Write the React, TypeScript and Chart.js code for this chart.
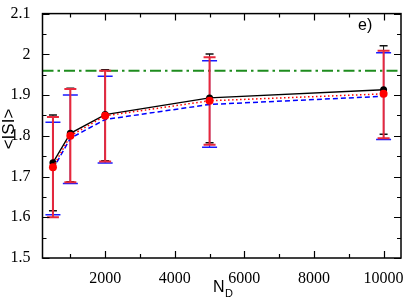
import React, { useEffect, useRef } from "react";
import { Chart, registerables } from "chart.js";

Chart.register(...registerables);

// ---- data ----
const nValues = [500, 1000, 2000, 5000, 10000];

const blackMean = [1.734, 1.806, 1.852, 1.893, 1.913];
const blackUpper = [1.851, 1.917, 1.962, 2.001, 2.021];
const blackLower = [1.616, 1.687, 1.739, 1.783, 1.804];

const redMean = [1.723, 1.8, 1.849, 1.886, 1.903];
const redUpper = [1.846, 1.915, 1.96, 1.993, 2.009];
const redLower = [1.6, 1.686, 1.737, 1.778, 1.794];

const blueMean = [1.718, 1.794, 1.84, 1.877, 1.897];
const blueUpper = [1.833, 1.9, 1.946, 1.984, 2.004];
const blueLower = [1.606, 1.683, 1.733, 1.772, 1.791];

const referenceLevel = 1.96;

const xTickValues = [2000, 4000, 6000, 8000, 10000];
const xMinorTicks = [1000, 3000, 5000, 7000, 9000];
const yTickValues = [1.5, 1.6, 1.7, 1.8, 1.9, 2.0, 2.1];
const yTickLabels = ["1.5", "1.6", "1.7", "1.8", "1.9", "2", "2.1"];
const yMinorTicks = [1.55, 1.65, 1.75, 1.85, 1.95, 2.05];

const xTitle = "N";
const xTitleSub = "D";
const yTitle = "<ISI>";
const panelLabel = "e)";

const toPoints = (ys: number[]) => nValues.map((x, i) => ({ x, y: ys[i] }));

function drawErrorBars(
  ctx: CanvasRenderingContext2D,
  chart: any,
  upper: number[],
  lower: number[],
  color: string,
  vWidth: number,
  capHalf: number,
  capWidth: number
) {
  const x = chart.scales.x;
  const y = chart.scales.y;
  ctx.save();
  ctx.strokeStyle = color;
  ctx.setLineDash([]);
  for (let i = 0; i < nValues.length; i++) {
    const px = x.getPixelForValue(nValues[i]);
    const pt = y.getPixelForValue(upper[i]);
    const pb = y.getPixelForValue(lower[i]);
    ctx.lineWidth = vWidth;
    ctx.beginPath();
    ctx.moveTo(px, pt);
    ctx.lineTo(px, pb);
    ctx.stroke();
    ctx.lineWidth = capWidth;
    ctx.beginPath();
    ctx.moveTo(px - capHalf, pt);
    ctx.lineTo(px + capHalf, pt);
    ctx.moveTo(px - capHalf, pb);
    ctx.lineTo(px + capHalf, pb);
    ctx.stroke();
  }
  ctx.restore();
}

const decorPlugin = {
  id: "decor",
  beforeDatasetsDraw(chart: any) {
    const { ctx, chartArea: a } = chart;
    const y = chart.scales.y;
    ctx.save();
    ctx.beginPath();
    ctx.rect(a.left, a.top, a.right - a.left, a.bottom - a.top);
    ctx.clip();
    // reference line
    ctx.strokeStyle = "#1e8c1e";
    ctx.lineWidth = 2;
    ctx.setLineDash([11, 4, 2.5, 4]);
    const gy = y.getPixelForValue(referenceLevel);
    ctx.beginPath();
    ctx.moveTo(a.left, gy);
    ctx.lineTo(a.right, gy);
    ctx.stroke();
    ctx.restore();

    drawErrorBars(ctx, chart, blueUpper, blueLower, "#1a1aff", 1.2, 7.5, 1.5);
    drawErrorBars(ctx, chart, blackUpper, blackLower, "#111111", 1, 4, 1.5);
    drawErrorBars(ctx, chart, redUpper, redLower, "#e8283c", 2, 6, 2);
  },
  afterDraw(chart: any) {
    const { ctx, chartArea: a } = chart;
    const x = chart.scales.x;
    const y = chart.scales.y;
    ctx.save();
    ctx.setLineDash([]);
    ctx.strokeStyle = "#000";
    ctx.lineWidth = 1.5;
    ctx.strokeRect(a.left, a.top, a.right - a.left, a.bottom - a.top);

    ctx.lineWidth = 1.2;
    const major = 7;
    const minor = 4;
    ctx.beginPath();
    yTickValues.forEach((v) => {
      const py = Math.round(y.getPixelForValue(v)) + 0.5;
      ctx.moveTo(a.left, py);
      ctx.lineTo(a.left + major, py);
      ctx.moveTo(a.right, py);
      ctx.lineTo(a.right - major, py);
    });
    yMinorTicks.forEach((v) => {
      const py = Math.round(y.getPixelForValue(v)) + 0.5;
      ctx.moveTo(a.left, py);
      ctx.lineTo(a.left + minor, py);
      ctx.moveTo(a.right, py);
      ctx.lineTo(a.right - minor, py);
    });
    xTickValues.forEach((v) => {
      const px = Math.round(x.getPixelForValue(v)) + 0.5;
      ctx.moveTo(px, a.bottom);
      ctx.lineTo(px, a.bottom - major);
      ctx.moveTo(px, a.top);
      ctx.lineTo(px, a.top + major);
    });
    xMinorTicks.forEach((v) => {
      const px = Math.round(x.getPixelForValue(v)) + 0.5;
      ctx.moveTo(px, a.bottom);
      ctx.lineTo(px, a.bottom - minor);
      ctx.moveTo(px, a.top);
      ctx.lineTo(px, a.top + minor);
    });
    ctx.stroke();

    // axis titles
    ctx.fillStyle = "#000";
    ctx.font = "16px 'Liberation Sans', Arial, sans-serif";
    ctx.textBaseline = "alphabetic";
    ctx.textAlign = "left";
    const nW = ctx.measureText(xTitle).width;
    ctx.font = "11px 'Liberation Sans', Arial, sans-serif";
    const dW = ctx.measureText(xTitleSub).width;
    const cx = (a.left + a.right) / 2 + 1;
    const startX = cx - (nW + dW) / 2;
    ctx.font = "16px 'Liberation Sans', Arial, sans-serif";
    ctx.fillText(xTitle, startX, 292);
    ctx.font = "11px 'Liberation Sans', Arial, sans-serif";
    ctx.fillText(xTitleSub, startX + nW + 0.5, 297);

    ctx.save();
    ctx.translate(9, 129);
    ctx.rotate(-Math.PI / 2);
    ctx.font = "17px 'Liberation Sans', Arial, sans-serif";
    ctx.textAlign = "center";
    ctx.textBaseline = "middle";
    ctx.fillText(yTitle, 0, 0);
    ctx.restore();

    ctx.font = "16px 'Liberation Sans', Arial, sans-serif";
    ctx.textAlign = "left";
    ctx.textBaseline = "alphabetic";
    ctx.fillText(panelLabel, 358, 30);
    ctx.restore();
  },
};

export default function App() {
  const ref = useRef<HTMLCanvasElement | null>(null);
  useEffect(() => {
    document.body.style.margin = "0";
    if (!ref.current) return;
    const chart = new Chart(ref.current, {
      type: "line",
      data: {
        datasets: [
          {
            data: toPoints(redMean),
            borderColor: "#ff0000",
            borderWidth: 1.5,
            borderDash: [1.5, 2.5],
            pointRadius: 4,
            pointBackgroundColor: "#ff0000",
            pointBorderWidth: 0,
            tension: 0,
          },
          {
            data: toPoints(blackMean),
            borderColor: "#000000",
            borderWidth: 1.3,
            pointRadius: 3.5,
            pointBackgroundColor: "#000000",
            pointBorderWidth: 0,
            tension: 0,
          },
          {
            data: toPoints(blueMean),
            borderColor: "#0000ff",
            borderWidth: 1.5,
            borderDash: [5, 3],
            pointRadius: 0,
            tension: 0,
          },
        ],
      },
      options: {
        responsive: false,
        animation: false,
        layout: { padding: { top: 6, right: 6, left: 0, bottom: 0 } },
        plugins: { legend: { display: false }, tooltip: { enabled: false } },
        scales: {
          x: {
            type: "linear",
            min: 200,
            max: 10500,
            grid: { display: false },
            border: { display: false },
            afterBuildTicks: (s: any) => {
              s.ticks = xTickValues.map((v) => ({ value: v }));
            },
            afterFit: (s: any) => {
              s.height = 41;
            },
            ticks: {
              autoSkip: false,
              maxRotation: 0,
              padding: 3,
              color: "#000",
              font: { family: "'Liberation Serif', serif", size: 16 },
              callback: (v: any) => String(v),
            },
          },
          y: {
            type: "linear",
            min: 1.5,
            max: 2.1,
            grid: { display: false },
            border: { display: false },
            afterBuildTicks: (s: any) => {
              s.ticks = yTickValues.map((v) => ({ value: v }));
            },
            afterFit: (s: any) => {
              s.width = 42.5;
            },
            ticks: {
              autoSkip: false,
              padding: 4,
              color: "#000",
              font: { family: "'Liberation Serif', serif", size: 16 },
              callback: (v: any) => {
                const idx = yTickValues.findIndex((t) => Math.abs(t - v) < 1e-6);
                return idx >= 0 ? yTickLabels[idx] : "";
              },
            },
          },
        },
      },
      plugins: [decorPlugin],
    });
    return () => chart.destroy();
  }, []);
  return (
    <canvas ref={ref} width={407} height={299} style={{ display: "block" }} />
  );
}
